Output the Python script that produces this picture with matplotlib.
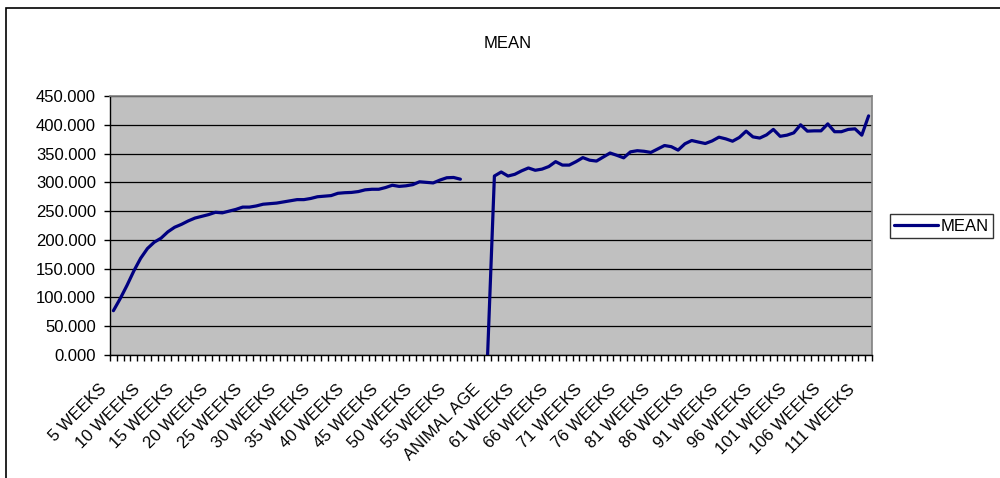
import numpy as np
import matplotlib
matplotlib.use("Agg")
import matplotlib.pyplot as plt
from matplotlib.patches import Rectangle
from matplotlib.transforms import ScaledTranslation

plt.rcParams['font.family'] = ['Liberation Sans', 'DejaVu Sans']

# categories: first block of weeks, a stray header row, second block of weeks
weeks_a = [f"{w} WEEKS" for w in range(5, 60)]
weeks_b = [f"{w} WEEKS" for w in range(57, 113)]
categories = weeks_a + ["ANIMAL AGE"] + weeks_b

mean_a = [77, 98, 121, 146, 168, 185, 196, 203, 214, 222,
          227, 233, 238, 241, 244, 248, 247, 250, 253, 257,
          257, 259, 262, 263, 264, 266, 268, 270, 270, 272,
          275, 276, 277, 281, 282, 282.5, 284, 287, 288, 288,
          291, 295, 293, 294, 296, 301, 300, 299, 304, 308,
          308.5, 305.5, np.nan, np.nan, np.nan]
mean_header = [0]
mean_b = [311, 318, 311, 314, 320, 325, 321, 323, 327.5, 336,
          330, 330, 336, 343, 338.5, 337, 344, 351, 347, 342.6,
          353, 355, 354, 352, 358, 364, 362, 356, 367, 372.7,
          370, 367.5, 372, 378.5, 375.6, 371.5, 378, 389, 379, 377,
          382.5, 392, 380, 382, 386, 400, 389, 389.5, 389.5, 401.6,
          388, 388, 392, 393, 382, 415.5]
mean = mean_a + mean_header + mean_b

x = np.arange(len(categories))

fig = plt.figure(figsize=(10, 4.78), dpi=100)
ax = fig.add_axes([0.110, 0.2573, 0.762, 0.5418])
ax.set_facecolor('#C0C0C0')

line, = ax.plot(x, mean, color='#000080', linewidth=2.3, label='MEAN',
                solid_capstyle='round', solid_joinstyle='round', zorder=3)

ax.set_xlim(-0.5, len(categories) - 0.5)
ax.set_ylim(0, 450)
ax.set_yticks(np.arange(0, 451, 50))
ax.set_yticklabels([f"{v:.3f}" for v in np.arange(0, 451, 50)])
ax.yaxis.grid(True, color='black', linewidth=0.9)
ax.set_axisbelow(True)
ax.tick_params(axis='y', direction='out', length=4, width=1, pad=6,
               labelsize=12)

# category boundaries as tick marks, labels every 5 categories
ax.set_xticks(np.arange(-0.5, len(categories), 1), minor=True)
ax.tick_params(axis='x', which='minor', direction='out', length=4, width=1)
lab_idx = x[::5]
ax.set_xticks(lab_idx)
ax.set_xticklabels([categories[i] for i in lab_idx], rotation=45,
                   ha='right', va='top', rotation_mode='anchor')
ax.tick_params(axis='x', which='major', length=0, pad=19, labelsize=12)
shift = ScaledTranslation(-15 / 100, 0, fig.dpi_scale_trans)
for lab in ax.get_xticklabels():
    lab.set_transform(lab.get_transform() + shift)

for side in ['top', 'right']:
    ax.spines[side].set_color('#808080')
    ax.spines[side].set_linewidth(1.2)
for side in ['left', 'bottom']:
    ax.spines[side].set_color('black')
    ax.spines[side].set_linewidth(1)

fig.text(0.508, 1 - 43 / 478, 'MEAN', ha='center', va='center', fontsize=12)

leg = fig.legend(handles=[line], loc='center left',
                 bbox_to_anchor=(0.890, 1 - 226 / 478), fontsize=12,
                 frameon=True, fancybox=False, handlelength=2.6,
                 handletextpad=0.2, borderpad=0.25, borderaxespad=0)
leg.get_frame().set_edgecolor('black')
leg.get_frame().set_linewidth(1)

# chart-area border (right and bottom run off the image)
fig.add_artist(Rectangle((0.006, -0.2), 1.2, 1.2 - 8 / 478, fill=False,
                         edgecolor='black', linewidth=1.2,
                         transform=fig.transFigure))

fig.savefig('out.png', dpi=100)
